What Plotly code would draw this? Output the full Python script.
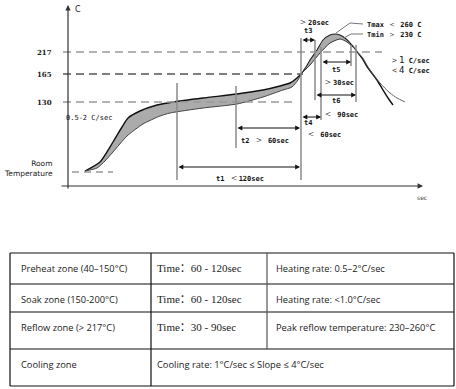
import plotly.graph_objects as go

# ---------------- data (time in s from axis origin, schematic temperature level) -------------
ramp_hi_t = [17, 32, 45, 54, 60, 72, 89, 105, 135, 169, 195, 212, 222, 229, 234]
ramp_hi_y = [15, 24, 44, 59, 68, 75, 81, 84, 88, 92, 96, 100, 103, 108, 113]
ramp_lo_t = [17, 29, 37, 45, 59, 75, 92, 102, 135, 169, 195, 215, 224, 230, 234]
ramp_lo_y = [15, 18, 25, 34, 50, 62, 70, 73, 78, 82, 89, 96, 99, 106, 113]

peak_max_t = [234, 238, 242, 249, 255, 262, 267, 272, 277, 284, 290]
peak_max_y = [113, 119, 126, 136, 146, 151, 152, 151, 148, 141, 133]
peak_min_t = [234, 242, 252, 262, 272, 279, 287, 290]
peak_min_y = [113, 121, 133, 143, 147, 144, 137, 133]

cool_fast_t = [290, 294, 300, 309, 315, 320, 325]
cool_fast_y = [133, 128, 118, 106, 96, 88, 81]
cool_slow_t = [290, 294, 302, 312, 322, 329, 337]
cool_slow_y = [133, 129, 116, 103, 93, 88, 84]

level_labels = ["217", "165", "130"]
level_values = [134, 112, 84]
room_level = 14

vline_t = [109, 168, 233, 247, 253, 283, 288]
vline_lo = [6, 38, 6, 86, 66, 120, 84]
vline_hi = [103, 100, 148, 146, 139, 141, 141]

interval_start = [109, 168, 233, 233, 253, 247]
interval_end = [232, 232, 247, 253, 283, 288]
interval_level = [19, 58, 146, 69, 124, 91]

table_col1 = ["Preheat zone (40–150°C)", "Soak zone (150-200°C)", "Reflow zone (> 217°C)", "Cooling zone"]
table_col2 = ["Time：60 - 120sec", "Time：60 - 120sec", "Time：30 - 90sec",
              "Cooling rate: 1°C/sec ≤ Slope ≤ 4°C/sec"]
table_col3 = ["Heating rate: 0.5–2°C/sec", "Heating rate: <1.0°C/sec",
              "Peak reflow temperature: 230–260°C", ""]

W, H = 456, 389
X0, Y0 = 68, 186  # pixel of axis origin

fig = go.Figure()

FILL = "#ababab"
SPL = dict(shape="spline", smoothing=0.6)

# filled bands
fig.add_trace(go.Scatter(x=ramp_hi_t + ramp_lo_t[::-1], y=ramp_hi_y + ramp_lo_y[::-1],
                         fill="toself", fillcolor=FILL, line=dict(width=0, **SPL), mode="lines",
                         hoverinfo="skip", showlegend=False))
fig.add_trace(go.Scatter(x=peak_max_t + peak_min_t[::-1], y=peak_max_y + peak_min_y[::-1],
                         fill="toself", fillcolor=FILL, line=dict(width=0, **SPL), mode="lines",
                         hoverinfo="skip", showlegend=False))
# outlines
for tt, yy, c, w in [(ramp_hi_t, ramp_hi_y, "#111", 1.4), (ramp_lo_t, ramp_lo_y, "#444", 1.0),
                     (peak_max_t, peak_max_y, "#222", 1.1), (peak_min_t, peak_min_y, "#333", 1.0),
                     (cool_fast_t, cool_fast_y, "#111", 1.4), (cool_slow_t, cool_slow_y, "#555", 0.9)]:
    fig.add_trace(go.Scatter(x=tt, y=yy, mode="lines", line=dict(color=c, width=w, **SPL),
                             hoverinfo="skip", showlegend=False))

shapes = []
ann = []

# dashed reference lines
dash_ends = [314, 235, 227]
dash_cols = ["#9a9a9a", "#555555", "#9a9a9a"]
for lv, lab, xe, dc in zip(level_values, level_labels, dash_ends, dash_cols):
    shapes.append(dict(type="line", x0=-5, x1=xe, y0=lv, y1=lv, xref="x", yref="y",
                       line=dict(color=dc, width=1.3, dash="8px,5px")))
    ann.append(dict(x=-14, y=lv, text="<b>%s</b>" % lab, showarrow=False, xanchor="right",
                    font=dict(family="DejaVu Serif", size=7, color="#222")))
shapes.append(dict(type="line", x0=4, x1=45, y0=room_level, y1=room_level, xref="x", yref="y",
                   line=dict(color="#666", width=1.2, dash="7px,5px")))
ann.append(dict(x=-13, y=room_level + 4, text="Room<br>Temperature", showarrow=False,
                xanchor="right", align="right", yanchor="middle",
                font=dict(family="DejaVu Sans", size=7.5, color="#222")))

# vertical gray lines
for t, lo, hi in zip(vline_t, vline_lo, vline_hi):
    shapes.append(dict(type="line", x0=t, x1=t, y0=lo, y1=hi, xref="x", yref="y",
                       line=dict(color="#8a8a8a", width=1.5)))

# axes with arrows
ann.append(dict(x=0, y=181, ax=0, ay=-4, xref="x", yref="y", axref="x", ayref="y", text="",
                showarrow=True, arrowhead=2, arrowsize=0.9, arrowwidth=1.2, arrowcolor="#333"))
ann.append(dict(x=355, y=0, ax=-8, ay=0, xref="x", yref="y", axref="x", ayref="y", text="",
                showarrow=True, arrowhead=2, arrowsize=0.9, arrowwidth=1.2, arrowcolor="#333"))
ann.append(dict(x=5, y=177, text="C", showarrow=False, xanchor="left",
                font=dict(family="DejaVu Sans", size=8, color="#222")))
ann.append(dict(x=354, y=-11, text="sec", showarrow=False,
                font=dict(family="DejaVu Sans", size=6, color="#444")))

# interval arrows
for s, e, lv in zip(interval_start, interval_end, interval_level):
    ann.append(dict(x=e, y=lv, ax=s, ay=lv, xref="x", yref="y", axref="x", ayref="y", text="",
                    showarrow=True, arrowhead=2, startarrowhead=2, arrowside="end+start",
                    arrowsize=0.8, arrowwidth=1.2, arrowcolor="#111"))

SMALL = dict(family="DejaVu Sans Mono", size=7, color="#111")
LT = "<span style='font-size:10px'>＜</span>"
GT = "<span style='font-size:10px'>＞</span>"
labels = [
    (172, 9, "<b>t1</b> " + LT + "<b>120sec</b>"),
    (197, 47, "<b>t2</b> " + GT + " <b>60sec</b>"),
    (240, 155, "<b>t3</b>"),
    (245, 165, GT + "<b>20sec</b>"),
    (240, 63, "<b>t4</b>"),
    (255, 53, LT + " <b>60sec</b>"),
    (268, 116, "<b>t5</b>"),
    (270, 105, GT + "<b>30sec</b>"),
    (268, 85, "<b>t6</b>"),
    (272, 73, LT + " <b>90sec</b>"),
    (21, 68, "0.5-2 C/sec"),
]
for x, y, t in labels:
    ann.append(dict(x=x, y=y, text=t, showarrow=False, font=SMALL))

ann.append(dict(x=297, y=162, text="<b>Tmax</b> <span style='font-size:8px'>＜</span> <b>260 C</b>",
                showarrow=False, xanchor="left", font=SMALL))
ann.append(dict(x=297, y=152, text="<b>Tmin</b> <span style='font-size:8px'>＞</span> <b>230 C</b>",
                showarrow=False, xanchor="left", font=SMALL))
ann.append(dict(x=320, y=126, text="<span style='font-size:9px'>＞1</span> <b>C/sec</b>",
                showarrow=False, xanchor="left", font=SMALL))
ann.append(dict(x=320, y=116, text="<span style='font-size:9px'>＜4</span> <b>C/sec</b>",
                showarrow=False, xanchor="left", font=SMALL))
# leader lines
shapes.append(dict(type="path", path="M 295 162 L 282 163 L 268 153", xref="x", yref="y",
                   line=dict(color="#777", width=1)))
shapes.append(dict(type="path", path="M 295 152 L 283 152 L 276 148", xref="x", yref="y",
                   line=dict(color="#777", width=1)))

# ---------------- table ----------------
row_py = [253, 284, 312, 349, 386]
col_px = [10, 151, 267, 454]


def tx(p):
    return p - X0


def ty(p):
    return Y0 - p


for i, yp in enumerate(row_py):
    shapes.append(dict(type="line", x0=tx(col_px[0]), x1=tx(col_px[-1]), y0=ty(yp), y1=ty(yp),
                       xref="x", yref="y", line=dict(color="#111", width=1.2)))
for j, xp in enumerate(col_px):
    bottom = row_py[-1] if j != 2 else row_py[3]
    shapes.append(dict(type="line", x0=tx(xp), x1=tx(xp), y0=ty(row_py[0]), y1=ty(bottom),
                       xref="x", yref="y",
                       line=dict(color="#111" if j != 2 else "#555", width=1.2)))

SANS = dict(family="Open Sans", size=9.3, color="#222")
SERIF = dict(family="Liberation Serif, Noto Sans CJK SC", size=11, color="#222")
for i in range(4):
    ytop = row_py[i] + 15
    ann.append(dict(x=tx(col_px[0] + 9), y=ty(ytop), text=table_col1[i], showarrow=False,
                    xanchor="left", font=SANS))
    ann.append(dict(x=tx(col_px[1] + 4), y=ty(ytop), text=table_col2[i], showarrow=False,
                    xanchor="left", font=SERIF if i < 3 else SANS))
    if table_col3[i]:
        ann.append(dict(x=tx(col_px[2] + 7), y=ty(ytop), text=table_col3[i], showarrow=False,
                        xanchor="left", font=SANS))

fig.update_layout(
    width=W, height=H, margin=dict(l=0, r=0, t=0, b=0),
    paper_bgcolor="white", plot_bgcolor="white",
    xaxis=dict(range=[-X0, W - X0], visible=False, fixedrange=True),
    yaxis=dict(range=[Y0 - H, Y0], visible=False, fixedrange=True),
    shapes=shapes, annotations=ann, showlegend=False,
)
fig.write_html("out.html", config={"displayModeBar": False},
               post_script="document.body.style.margin='0px';document.body.style.overflow='hidden';")
